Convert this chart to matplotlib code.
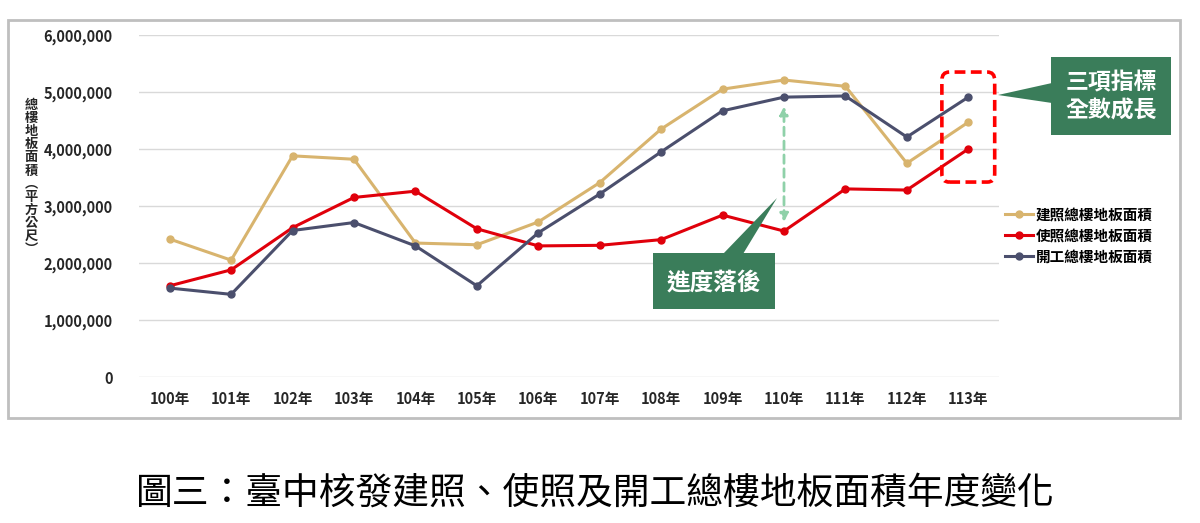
import matplotlib
matplotlib.use("Agg")
import matplotlib.pyplot as plt
from matplotlib.patches import Rectangle, FancyBboxPatch, Polygon
from matplotlib.ticker import FuncFormatter

plt.rcParams['font.family'] = ['Noto Sans CJK TC', 'DejaVu Sans']

# data (square metres)
years = ['100年', '101年', '102年', '103年', '104年', '105年', '106年',
         '107年', '108年', '109年', '110年', '111年', '112年', '113年']
build_permit = [2420000, 2050000, 3880000, 3820000, 2350000, 2320000, 2720000,
                3410000, 4350000, 5050000, 5210000, 5100000, 3750000, 4470000]
use_permit = [1600000, 1880000, 2620000, 3150000, 3260000, 2600000, 2300000,
              2310000, 2410000, 2840000, 2560000, 3300000, 3280000, 4000000]
construction = [1560000, 1450000, 2570000, 2710000, 2300000, 1600000, 2530000,
                3210000, 3950000, 4670000, 4910000, 4930000, 4210000, 4910000]
series_names = ['建照總樓地板面積', '使照總樓地板面積', '開工總樓地板面積']
series_colors = ['#d8b46e', '#e0000b', '#4b4f6d']

W, H = 1200, 523
GREEN = '#3a7d5a'


def px(x, y):
    # pixel (from top-left) -> figure fraction
    return x / W, 1 - y / H


fig = plt.figure(figsize=(W / 100, H / 100), dpi=100)
ax = fig.add_axes([139 / W, 1 - 377 / H, (999 - 139) / W, (377 - 35) / H])

xs = range(len(years))
for vals, name, col in zip([build_permit, use_permit, construction], series_names, series_colors):
    ax.plot(xs, vals, color=col, lw=2.2, marker='o', ms=5, label=name, zorder=3)

ax.set_xlim(-0.5, len(years) - 0.5)
ax.set_ylim(0, 6000000)
ax.set_yticks(range(0, 6000001, 1000000))
ax.yaxis.set_major_formatter(FuncFormatter(lambda v, p: f'{int(v):,}'))
ax.set_xticks(list(xs))
ax.set_xticklabels(years)
ax.grid(axis='y', color='#d9d9d9', lw=1)
ax.set_axisbelow(True)
for s in ax.spines.values():
    s.set_visible(False)
ax.tick_params(length=0, labelsize=10.5, colors='#262626', pad=10)
ax.tick_params(axis='y', pad=19)
for t in ax.get_xticklabels() + ax.get_yticklabels():
    t.set_fontweight('bold')

# stacked vertical axis title
ytitle = '總樓地板面積︵平方公尺︶'
fig.text(*px(31, 177), '\n'.join(ytitle), ha='center', va='center', fontsize=9.5,
         fontweight='bold', color='#262626', linespacing=0.92)

# outer frame
fig.patches.append(Rectangle(px(8, 418), (1180 - 8) / W, (418 - 20) / H,
                             transform=fig.transFigure, fill=False, ec='#bfbfbf', lw=2))

# legend
fig.legend(loc='upper left', bbox_to_anchor=px(992, 193), frameon=False,
           handlelength=1.9, handletextpad=0.2, labelspacing=0.35,
           prop={'weight': 'bold', 'size': 10.5})

# dashed red box round 113
ax.add_patch(FancyBboxPatch((12.57, 3420000), 0.86, 1930000,
                            boxstyle='round,pad=0,rounding_size=0.12',
                            mutation_aspect=1200000, fill=False, ec='#ff0000',
                            lw=2.6, ls=(0, (3, 1.5)), zorder=4, clip_on=False))

# green callout: 三項指標 全數成長
fig.patches.append(Rectangle(px(1051, 135), 120 / W, 78 / H, transform=fig.transFigure,
                             fc=GREEN, ec='none'))
fig.patches.append(Polygon([px(998, 95), px(1052, 83), px(1052, 103)],
                           transform=fig.transFigure, fc=GREEN, ec='none'))
fig.text(*px(1111, 97), '三項指標\n全數成長', ha='center', va='center', fontsize=16.5,
         fontweight='bold', color='white', linespacing=1.25)

# green callout: 進度落後
fig.patches.append(Rectangle(px(653, 309), 122 / W, 56 / H, transform=fig.transFigure,
                             fc=GREEN, ec='none'))
fig.patches.append(Polygon([px(723, 254), px(743, 254), px(777, 198)],
                           transform=fig.transFigure, fc=GREEN, ec='none'))
fig.text(*px(714, 282), '進度落後', ha='center', va='center', fontsize=17,
         fontweight='bold', color='white')

# gap arrow at 110
ax.annotate('', xy=(10, 4750000), xytext=(10, 2720000),
            arrowprops=dict(arrowstyle='<|-|>', color='#8fd1a9', lw=2, ls=(0, (3, 2)),
                            mutation_scale=12, shrinkA=0, shrinkB=0), zorder=2)

# caption
fig.text(*px(595, 493), '圖三：臺中核發建照、使照及開工總樓地板面積年度變化',
         ha='center', va='center', fontsize=26.5, color='black')

fig.savefig('out.png', dpi=100)
